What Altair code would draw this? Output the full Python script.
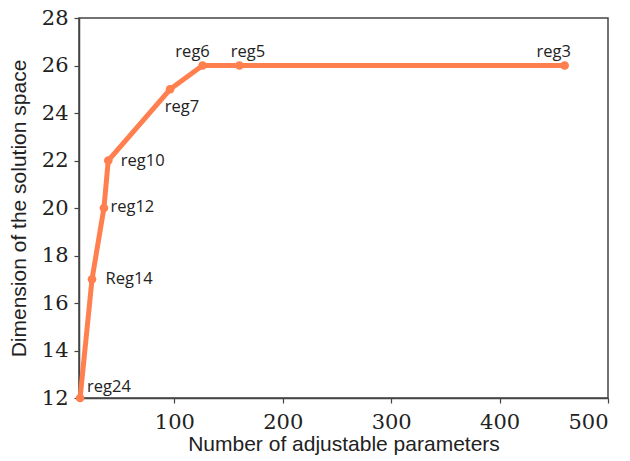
import altair as alt
import pandas as pd

# Regularisation levels: number of adjustable parameters vs. solution-space dimension
params = [13, 24, 35, 39, 96, 126, 160, 460]
dims = [12, 17, 20, 22, 25, 26, 26, 26]
labels = ["reg24", "Reg14", "reg12", "reg10", "reg7", "reg6", "reg5", "reg3"]

x_ticks = [100, 200, 300, 400, 500]
y_ticks = [12, 14, 16, 18, 20, 22, 24, 26, 28]

# label placement (dx, dy, align) for each annotation
label_style = {
    "reg24": (7, -11.5, "left"),
    "Reg14": (13.5, 0, "left"),
    "reg12": (6.5, -1.5, "left"),
    "reg10": (12.5, 0, "left"),
    "reg7": (12, 17.5, "center"),
    "reg6": (-10, -13.5, "center"),
    "reg5": (8.5, -13.5, "center"),
    "reg3": (-11, -13.5, "center"),
}

df = pd.DataFrame({"params": params, "dim": dims, "label": labels})

LINE = "#FF7F4F"
AXIS = "#444444"
TXT = "#222222"

x_enc = alt.X(
    "params:Q",
    scale=alt.Scale(domain=[12, 500], nice=False, zero=False),
    axis=alt.Axis(
        values=x_ticks,
        title="Number of adjustable parameters",
        titleY=52,
        titleBaseline="alphabetic",
        labelPadding=8,
    ),
)
y_enc = alt.Y(
    "dim:Q",
    scale=alt.Scale(domain=[12, 28], nice=False, zero=False),
    axis=alt.Axis(
        values=y_ticks,
        title="Dimension of the solution space",
        titleX=-54,
        titleBaseline="alphabetic",
        labelPadding=6,
    ),
)

base = alt.Chart(df).encode(x=x_enc, y=y_enc)

line = base.mark_line(color=LINE, strokeWidth=5, clip=False)
pts = base.mark_circle(color=LINE, size=75, opacity=1, clip=False)

texts = []
for name in labels:
    dx, dy, align = label_style[name]
    texts.append(
        alt.Chart(df)
        .transform_filter(alt.datum.label == name)
        .mark_text(
            dx=dx,
            dy=dy,
            align=align,
            baseline="middle",
            font="Open Sans",
            fontSize=16.5,
            color=TXT,
        )
        .encode(x="params:Q", y="dim:Q", text="label:N")
    )

chart = (
    alt.layer(line, pts, *texts)
    .properties(
        width=529,
        height=380,
        autosize=alt.AutoSizeParams(type="none"),
        padding={"left": 79, "top": 18, "right": 22, "bottom": 63},
        background="white",
    )
    .configure_view(stroke=AXIS, strokeWidth=1.5)
    .configure_axis(
        grid=False,
        domainColor=AXIS,
        domainWidth=1.5,
        tickColor=AXIS,
        tickWidth=1.2,
        tickSize=5,
        labelFont="DejaVu Serif",
        labelFontSize=21,
        labelColor=TXT,
        titleFont="Liberation Sans",
        titleFontSize=21,
        titleFontWeight="normal",
        titleColor=TXT,
    )
)

chart.save("out.html", embed_options={"renderer": "svg", "actions": False})
